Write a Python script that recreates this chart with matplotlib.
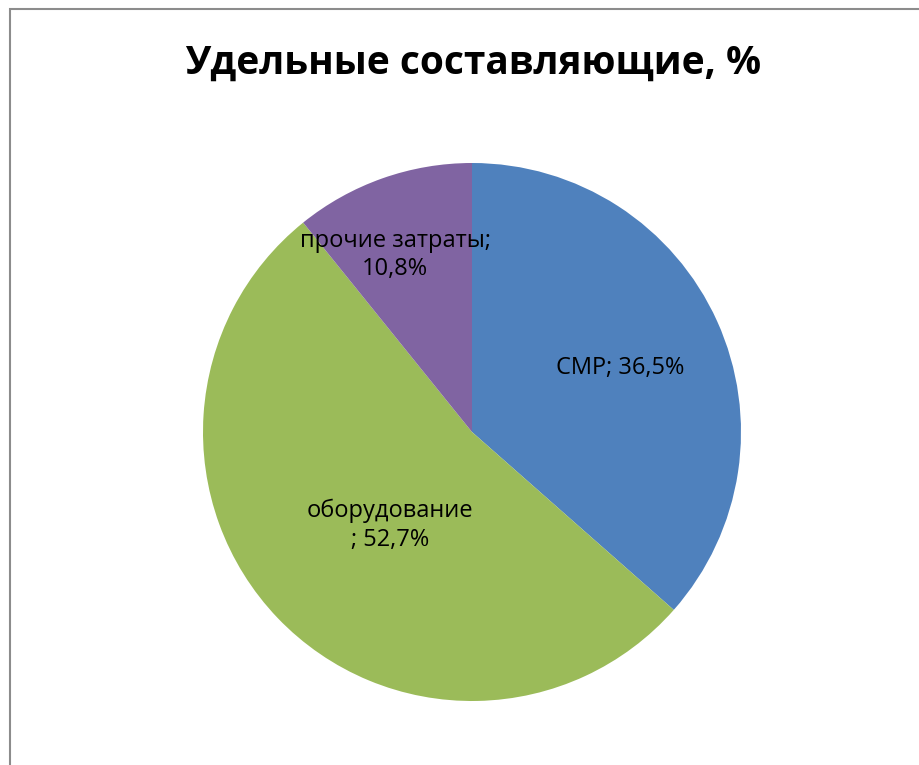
import matplotlib
matplotlib.use("Agg")
import matplotlib.pyplot as plt
from matplotlib.patches import Rectangle

categories = ["СМР", "оборудование", "прочие затраты"]
values = [36.5, 52.7, 10.8]
colors = ["#4F81BD", "#9BBB59", "#8064A2"]
label_texts = ["СМР; 36,5%", "оборудование\n; 52,7%", "прочие затраты;\n10,8%"]
label_pos = [(0.55, 0.238), (-0.305, -0.346), (-0.286, 0.658)]

W, H = 920, 765
fig = plt.figure(figsize=(W / 100, H / 100), dpi=100)
fig.patch.set_facecolor("white")

# chart frame
fig.add_artist(Rectangle((10.5 / W, -0.1), 1.2, 1 - 9.5 / H + 0.1,
                         transform=fig.transFigure, fill=False,
                         edgecolor="#8c8c8c", linewidth=1.5))

cx, cy, r = 472, 432, 269
ax = fig.add_axes([(cx - r) / W, (H - cy - r) / H, 2 * r / W, 2 * r / H])
ax.pie(values, colors=colors, startangle=90, counterclock=False, radius=1,
       wedgeprops=dict(linewidth=0))
ax.set_xlim(-1, 1)
ax.set_ylim(-1, 1)
ax.set_aspect("equal")
ax.axis("off")

for t, (x, y) in zip(label_texts, label_pos):
    ax.text(x, y, t, ha="center", va="center", fontsize=17,
            family=["Open Sans", "DejaVu Sans"], color="black", linespacing=1.25)

fig.text(473 / W, 1 - 63 / H, "Удельные составляющие, %", ha="center", va="center",
         fontsize=28, fontweight="bold", family=["Open Sans", "DejaVu Sans"])

fig.savefig("out.png", dpi=100)
